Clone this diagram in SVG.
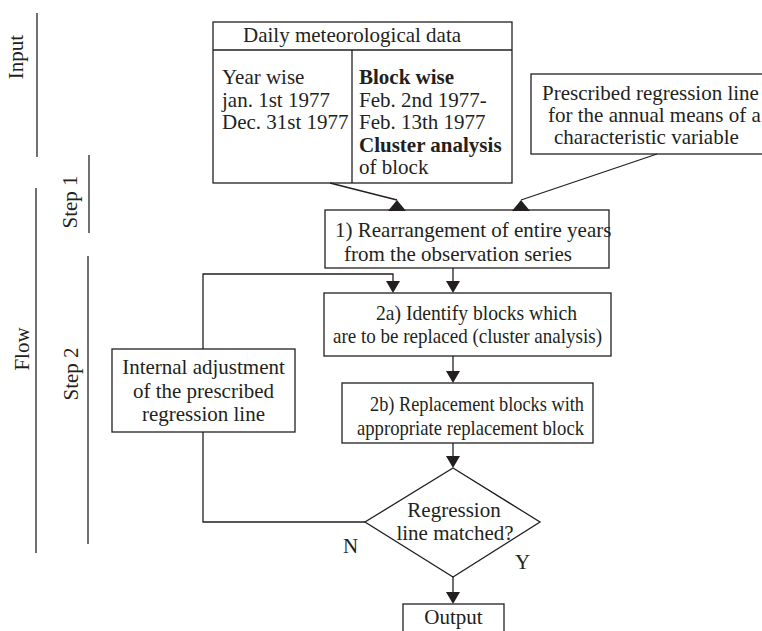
<svg xmlns="http://www.w3.org/2000/svg" width="762" height="631" viewBox="0 0 762 631">
<style>
text{font-family:"Liberation Serif","Times New Roman",serif;font-size:21px;fill:#231f20}
.b{font-weight:bold}
.c{text-anchor:middle}
.box{fill:#fff;stroke:#231f20;stroke-width:1.3}
.ln{fill:none;stroke:#231f20;stroke-width:1.3}
.rule{stroke:#4d4d4d;stroke-width:1.6}
.ah{fill:#231f20}
</style>
<rect width="762" height="631" fill="#fff"/>
<g id="side-labels">
<line class="rule" x1="37" y1="13" x2="37" y2="157"/>
<line class="rule" x1="89" y1="155" x2="89" y2="233"/>
<line class="rule" x1="36" y1="188" x2="36" y2="553"/>
<line class="rule" x1="88" y1="256" x2="88" y2="544"/>
<text class="c" transform="translate(23,57) rotate(-90)">Input</text>
<text class="c" transform="translate(77,202) rotate(-90)">Step 1</text>
<text class="c" transform="translate(29,349) rotate(-90)">Flow</text>
<text class="c" transform="translate(78,374) rotate(-90)">Step 2</text>
</g>
<g id="daily-data">
<rect class="box" x="213" y="22" width="299" height="161"/>
<line class="ln" x1="213" y1="50" x2="512" y2="50"/>
<line class="ln" x1="352" y1="50" x2="352" y2="183"/>
<text x="243" y="42">Daily meteorological data</text>
<text x="222" y="84">Year wise</text>
<text x="222" y="107">jan. 1st 1977</text>
<text x="222" y="129">Dec. 31st 1977</text>
<text x="359" y="84" class="b">Block wise</text>
<text x="359" y="107">Feb. 2nd 1977-</text>
<text x="359" y="129">Feb. 13th 1977</text>
<text x="359" y="152" class="b">Cluster analysis</text>
<text x="359" y="174">of block</text>
</g>
<g id="prescribed">
<rect class="box" x="531" y="74" width="240" height="80"/>
<text x="542" y="100">Prescribed regression line</text>
<text x="548" y="122">for the annual means of a</text>
<text x="554" y="144">characteristic variable</text>
</g>
<g id="step1-rearrange">
<rect class="box" x="325" y="210" width="284" height="58"/>
<text x="335" y="237">1) Rearrangement of entire years</text>
<text x="344" y="261">from the observation series</text>
</g>
<g id="step2a-identify">
<rect class="box" x="324" y="293" width="287" height="63"/>
<text x="376" y="320" textLength="201" lengthAdjust="spacingAndGlyphs">2a) Identify blocks which</text>
<text x="333" y="343" textLength="269" lengthAdjust="spacingAndGlyphs">are to be replaced (cluster analysis)</text>
</g>
<g id="step2b-replace">
<rect class="box" x="342" y="383" width="251" height="60"/>
<text x="370" y="411" textLength="214" lengthAdjust="spacingAndGlyphs">2b) Replacement blocks with</text>
<text x="357" y="435" textLength="227" lengthAdjust="spacingAndGlyphs">appropriate replacement block</text>
</g>
<g id="internal-adjustment">
<rect class="box" x="112" y="349" width="183" height="83"/>
<text class="c" x="203.5" y="374">Internal adjustment</text>
<text class="c" x="203.5" y="398">of the prescribed</text>
<text class="c" x="203.5" y="421">regression line</text>
</g>
<g id="decision">
<polygon class="box" points="453,468 540,522 453,577 365,522"/>
<text class="c" x="454" y="517">Regression</text>
<text class="c" x="455" y="540">line matched?</text>
</g>
<g id="output">
<rect class="box" x="403" y="604" width="101" height="40"/>
<text class="c" x="453.5" y="624">Output</text>
</g>
<g id="connectors">
<line class="ln" x1="330" y1="183" x2="397" y2="200"/>
<polygon class="ah" points="388,211 406,211 397,200"/>
<line class="ln" x1="657" y1="154" x2="521" y2="200"/>
<polygon class="ah" points="512,211 530,211 521,200"/>
<line class="ln" x1="453" y1="268" x2="453" y2="281"/>
<polygon class="ah" points="446,281 460,281 453,293"/>
<polyline class="ln" points="203,349 203,274 393,274 393,281"/>
<polygon class="ah" points="386,281 400,281 393,293"/>
<polyline class="ln" points="365,522 203,522 203,432"/>
<line class="ln" x1="453" y1="356" x2="453" y2="371"/>
<polygon class="ah" points="446,371 460,371 453,383"/>
<line class="ln" x1="453" y1="443" x2="453" y2="456"/>
<polygon class="ah" points="446,456 460,456 453,468"/>
<line class="ln" x1="453" y1="577" x2="453" y2="592"/>
<polygon class="ah" points="446,592 460,592 453,604"/>
<text x="343" y="553">N</text>
<text x="515" y="569">Y</text>
</g>
</svg>
